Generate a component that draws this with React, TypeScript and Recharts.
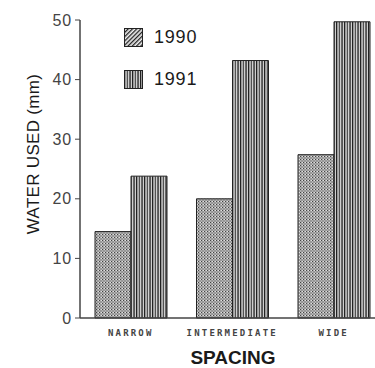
import React from 'react';
import { BarChart, Bar, XAxis, YAxis, Legend } from 'recharts';

const categories = ['NARROW', 'INTERMEDIATE', 'WIDE'];
const values1990 = [14.5, 20.0, 27.4];
const values1991 = [23.8, 43.2, 49.7];
const yTicks = [0, 10, 20, 30, 40, 50];

const data = categories.map((c, i) => ({ name: c, y1990: values1990[i], y1991: values1991[i] }));

const XTick = (props: any) => {
  const { x, y, payload } = props;
  return (
    <text
      x={x}
      y={y + 10}
      textAnchor="middle"
      fontFamily="'DejaVu Sans Mono', monospace"
      fontSize={9}
      fontWeight="bold"
      letterSpacing={2.2}
      fill="#444"
    >
      {payload.value}
    </text>
  );
};

const YLabel = (props: any) => {
  const { viewBox } = props;
  const cx = 33;
  const cy = viewBox.y + viewBox.height / 2 - 15;
  return (
    <text
      x={cx}
      y={cy}
      transform={`rotate(-90, ${cx}, ${cy})`}
      textAnchor="middle"
      dominantBaseline="central"
      fontFamily="'Liberation Sans', Arial, sans-serif"
      fontSize={17}
      letterSpacing={0.3}
      fill="#1a1a1a"
    >
      WATER USED (mm)
    </text>
  );
};

const XLabel = (props: any) => {
  const { viewBox } = props;
  return (
    <text
      x={233}
      y={viewBox.y + 39}
      textAnchor="middle"
      dominantBaseline="central"
      fontFamily="'Liberation Sans', Arial, sans-serif"
      fontWeight="bold"
      fontSize={19}
      fill="#1a1a1a"
    >
      SPACING
    </text>
  );
};

const LegendContent = (props: any) => {
  const { payload } = props;
  const fills: Record<string, string> = { '1990': 'url(#hatch90)', '1991': 'url(#stripe91)' };
  return (
    <div>
      {(payload || []).map((p: any) => (
        <div key={p.value} style={{ display: 'flex', alignItems: 'center', height: 42 }}>
          <svg width={19} height={19} style={{ display: 'block' }}>
            <rect x={0.5} y={0.5} width={18} height={18} fill={fills[p.value]} stroke="#222" strokeWidth={1} />
          </svg>
          <span
            style={{
              marginLeft: 11,
              fontFamily: "'Liberation Sans', Arial, sans-serif",
              fontSize: 18,
              letterSpacing: 0.8,
              color: '#1a1a1a',
            }}
          >
            {p.value}
          </span>
        </div>
      ))}
    </div>
  );
};

export default function App() {
  return (
    <div style={{ position: 'absolute', left: 0, top: 0, width: 375, height: 368, overflow: 'hidden', background: '#fff' }}>
      <BarChart
        width={386}
        height={368}
        data={data}
        margin={{ top: 20, right: 1.5, bottom: 0, left: 0 }}
        barGap={0}
        barCategoryGap={0}
      >
        <defs>
          <pattern id="dots90" width="3" height="3" patternUnits="userSpaceOnUse">
            <rect width="3" height="3" fill="#b0b0b0" />
            <rect x="0" y="0" width="1" height="1" fill="#444" />
            <rect x="1.5" y="1.5" width="1" height="1" fill="#555" />
            <rect x="2" y="0" width="1" height="1" fill="#e0e0e0" />
          </pattern>
          <pattern id="stripe91" width="8" height="8" patternUnits="userSpaceOnUse">
            <rect width="8" height="8" fill="#cfcfcf" />
            <rect x="0" y="0" width="1.3" height="8" fill="#222" />
            <rect x="2.8" y="0" width="1" height="8" fill="#333" />
            <rect x="5.4" y="0" width="1.3" height="8" fill="#222" />
          </pattern>
          <pattern id="hatch90" width="3" height="3" patternUnits="userSpaceOnUse" patternTransform="rotate(45)">
            <rect width="3" height="3" fill="#eee" />
            <rect x="0" y="0" width="1.3" height="3" fill="#222" />
          </pattern>
        </defs>
        <XAxis
          dataKey="name"
          height={50}
          tickLine={false}
          axisLine={{ stroke: '#444', strokeWidth: 1.5 }}
          tick={<XTick />}
          label={<XLabel />}
          interval={0}
        />
        <YAxis
          width={80}
          domain={[0, 50]}
          ticks={yTicks}
          tickSize={5}
          tickMargin={3}
          axisLine={{ stroke: '#444', strokeWidth: 1.5 }}
          tickLine={{ stroke: '#444', strokeWidth: 1 }}
          tick={{ fill: '#444', fontSize: 16, fontFamily: "'Liberation Sans', Arial, sans-serif", letterSpacing: 0.8 }}
          label={<YLabel />}
        />
        <Legend
          layout="vertical"
          verticalAlign="middle"
          align="center"
          content={<LegendContent />}
          wrapperStyle={{ position: 'absolute', left: 124, top: 16, width: 120 }}
        />
        <Bar dataKey="y1990" name="1990" barSize={36} fill="url(#dots90)" stroke="#222" strokeWidth={1} isAnimationActive={false} />
        <Bar dataKey="y1991" name="1991" barSize={36} fill="url(#stripe91)" stroke="#222" strokeWidth={1} isAnimationActive={false} />
      </BarChart>
    </div>
  );
}
